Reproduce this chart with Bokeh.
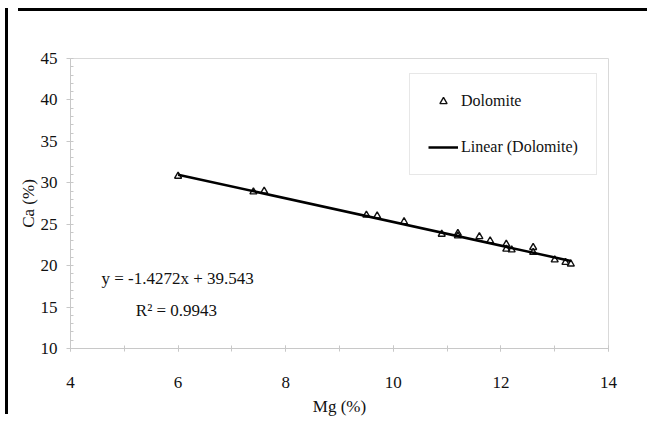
from bokeh.plotting import figure
from bokeh.models import Range1d, SingleIntervalTicker, Label, Legend, LegendItem, Div, Spacer
from bokeh.layouts import row, column
from bokeh.embed import file_html
from bokeh.resources import INLINE

# Data
mg = [6.0, 7.4, 7.6, 9.5, 9.7, 10.2, 10.9, 11.2, 11.2, 11.6, 11.8, 12.1, 12.1, 12.2, 12.6, 12.6, 13.0, 13.2, 13.3]
ca = [30.8, 28.9, 29.0, 26.1, 26.0, 25.3, 23.8, 23.9, 23.6, 23.5, 23.0, 22.6, 22.0, 21.9, 22.2, 21.6, 20.7, 20.4, 20.2]
slope = -1.4272
intercept = 39.543
r2 = 0.9943
series_name = "Dolomite"
trend_name = "Linear (Dolomite)"
x_title = "Mg (%)"
y_title = "Ca (%)"

FONT = "Liberation Serif"
TXT = "#111111"
AX = "#c8c8c8"

W, H = 630, 403

p = figure(width=W, height=H, output_backend="svg", toolbar_location=None,
           x_range=Range1d(4, 14), y_range=Range1d(10, 45),
           min_border_left=57, min_border_right=35, min_border_top=42, min_border_bottom=71)
p.background_fill_color = "white"
p.border_fill_color = "white"
p.outline_line_color = "#d9d9d9"
p.xgrid.visible = False
p.ygrid.visible = False

p.xaxis.ticker = SingleIntervalTicker(interval=2, num_minor_ticks=2)
p.yaxis.ticker = SingleIntervalTicker(interval=5, num_minor_ticks=5)

for ax in (p.xaxis, p.yaxis):
    ax.axis_line_color = AX
    ax.major_tick_line_color = AX
    ax.minor_tick_line_color = AX
    ax.major_label_text_font = FONT
    ax.major_label_text_font_size = "17px"
    ax.major_label_text_color = TXT
    ax.axis_label_text_font = FONT
    ax.axis_label_text_font_size = "17px"
    ax.axis_label_text_font_style = "normal"
    ax.axis_label_text_color = TXT

p.xaxis.axis_label = x_title
p.yaxis.axis_label = y_title
p.xaxis.major_tick_in = 3
p.xaxis.major_tick_out = 3
p.xaxis.minor_tick_in = 3
p.xaxis.minor_tick_out = 3
p.xaxis.major_label_standoff = 25
p.xaxis.axis_label_standoff = 6
p.yaxis.major_tick_in = 0
p.yaxis.major_tick_out = 4
p.yaxis.minor_tick_in = 3
p.yaxis.minor_tick_out = 0
p.yaxis.major_label_standoff = 9
p.yaxis.axis_label_standoff = 0

pts = p.scatter(mg, ca, marker="triangle", size=7, fill_color=None,
                line_color="#111111", line_width=1.4)
xs = [min(mg), max(mg)]
ys = [slope * x + intercept for x in xs]
ln = p.line(xs, ys, line_color="black", line_width=2.5)

legend = Legend(items=[LegendItem(label=series_name, renderers=[pts]),
                       LegendItem(label=trend_name, renderers=[ln])],
                location=(339, 173), padding=18, spacing=28, glyph_width=30,
                glyph_height=18, label_height=18, label_standoff=3, margin=0,
                label_text_font=FONT, label_text_font_size="16px", label_text_color=TXT,
                border_line_color="#d0d0d0", border_line_width=1,
                background_fill_color="white")
p.add_layout(legend, "center")

p.add_layout(Label(x=5.99, y=18.44, text="y = %.4fx + %.3f" % (slope, intercept),
                   text_align="center", text_baseline="middle", text_font=FONT,
                   text_font_size="17px", text_color=TXT))
p.add_layout(Label(x=5.97, y=14.58, text="R\u00b2 = %.4f" % r2,
                   text_align="center", text_baseline="middle", text_font=FONT,
                   text_font_size="17px", text_color=TXT))

top_bar = Div(text="", width=W, height=3, styles={"background-color": "black"})
left_bar = Div(text="", width=3, height=H + 3, styles={"background-color": "black"})
layout = row(column(Spacer(width=3, height=3), left_bar, spacing=0),
             column(Spacer(width=W, height=3), top_bar, p, spacing=0),
             spacing=0)

open("out.html", "w").write(file_html(layout, INLINE))
